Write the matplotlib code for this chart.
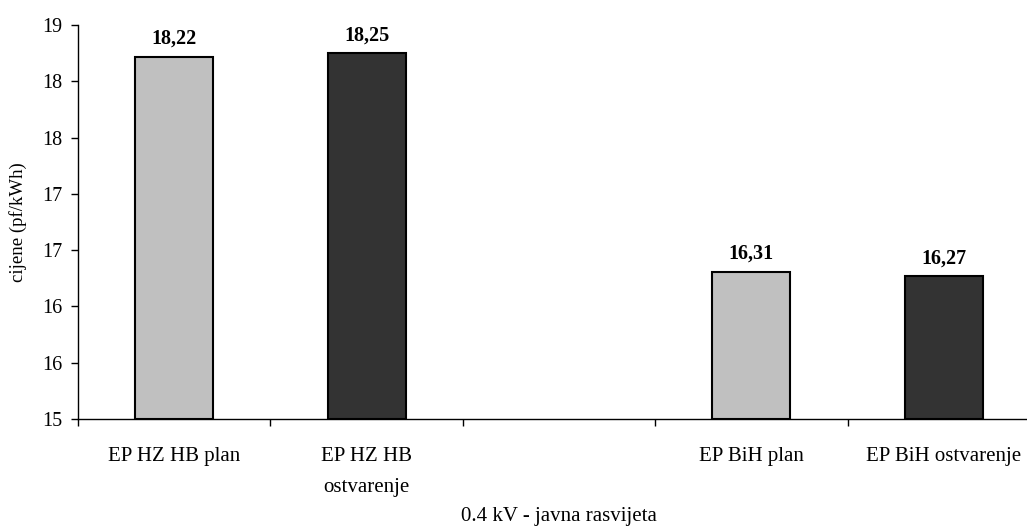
import numpy as np
import matplotlib
matplotlib.use("Agg")
import matplotlib.pyplot as plt

plt.rcParams['font.family'] = ['Liberation Serif', 'DejaVu Serif']

categories = ["EP HZ HB plan", "EP HZ HB\nostvarenje", "", "EP BiH plan", "EP BiH ostvarenje"]
values = [18.22, 18.25, None, 16.31, 16.27]
value_labels = ["18,22", "18,25", "", "16,31", "16,27"]
bar_colors = ["#c0c0c0", "#333333", "none", "#c0c0c0", "#333333"]
y_ticks = [15, 15.5, 16, 16.5, 17, 17.5, 18, 18.5]
y_tick_labels = ["15", "16", "16", "17", "17", "18", "18", "19"]

fig = plt.figure(figsize=(10.27, 5.31), dpi=100)
# plot area runs a bit past the right edge, as in the original
ax = fig.add_axes([78/1027, 1 - 419/531, (1040 - 78)/1027, (419 - 25)/531])

x = np.arange(len(categories))
for i, v in enumerate(values):
    if v is None:
        continue
    ax.bar(x[i], v - 15, bottom=15, width=0.405, color=bar_colors[i],
           edgecolor="black", linewidth=1.5, zorder=3)
    ax.text(x[i], v + 0.07, value_labels[i], ha="center", va="bottom",
            fontsize=14.5, fontweight="bold")

ax.set_xlim(-0.5, len(categories) - 0.5)
ax.set_ylim(15, 18.5)
ax.set_yticks(y_ticks)
ax.set_yticklabels(y_tick_labels, fontsize=14.5)
ax.set_xticks(np.arange(len(categories) + 1) - 0.5)
ax.set_xticklabels([])
ax.set_xticks(x, minor=True)
ax.set_xticklabels(categories, minor=True, fontsize=15, linespacing=1.9)
ax.tick_params(axis="x", which="minor", length=0, pad=20)
ax.tick_params(axis="x", which="major", length=5, direction="out", width=1)
ax.tick_params(axis="y", length=5, direction="out", width=1, pad=6)

for s in ["top", "right"]:
    ax.spines[s].set_visible(False)
ax.spines["left"].set_linewidth(1)
ax.spines["bottom"].set_linewidth(1)

ax.set_ylabel("cijene (pf/kWh)", fontsize=13.5, labelpad=11)
fig.text(559/1027, 1 - 516/531, "0.4 kV - javna rasvijeta", ha="center", va="center", fontsize=15)

fig.savefig("out.png", dpi=100)
